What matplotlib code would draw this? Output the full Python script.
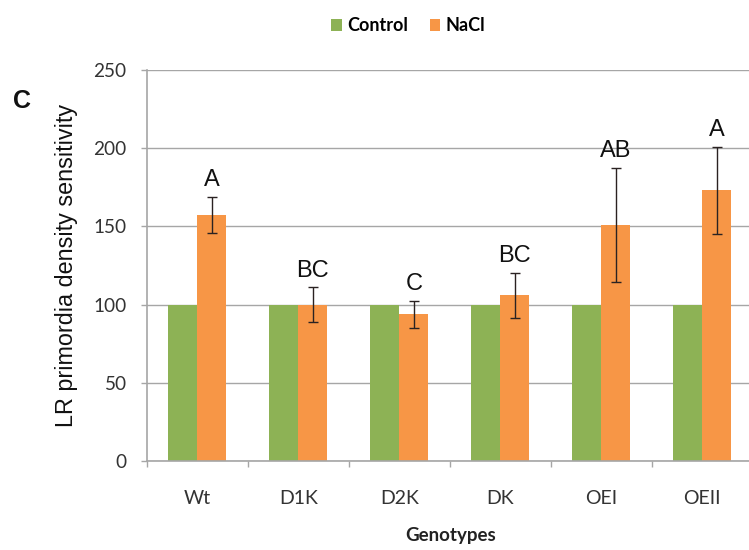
import matplotlib
matplotlib.use("Agg")
import matplotlib.pyplot as plt
import numpy as np

genotypes = ["Wt", "D1K", "D2K", "DK", "OEI", "OEII"]
control = [100, 100, 100, 100, 100, 100]
nacl = [157.3, 100, 93.8, 106, 151, 173]
nacl_err = [11.7, 11, 8.8, 14.5, 36.5, 28]
letters = ["A", "BC", "C", "BC", "AB", "A"]

green = "#8DB255"
orange = "#F79646"
grid_c = "#A6A6A6"

fig = plt.figure(figsize=(7.49, 5.5), dpi=100)
ax = fig.add_axes([0.196, 0.1618, 0.809, 0.7109])

x = np.arange(len(genotypes))
w = 0.287
ax.bar(x - w / 2, control, width=w, color=green, label="Control", zorder=2)
ax.bar(x + w / 2, nacl, width=w, color=orange, label="NaCl", zorder=2)
ax.errorbar(x + w / 2, nacl, yerr=nacl_err, fmt="none", ecolor="#2a2222",
            elinewidth=1.0, capsize=3.6, capthick=1.0, zorder=3)

for xi, v, e, t in zip(x, nacl, nacl_err, letters):
    ax.text(xi + w / 2, v + e + 3.5, t, ha="center", va="bottom",
            fontsize=17, family="Liberation Sans", color="#111111")

ax.set_ylim(0, 250)
ax.set_xlim(-0.5, 5.5)
ax.set_yticks(np.arange(0, 251, 50))
ax.yaxis.grid(True, color=grid_c, linewidth=1.0, zorder=0)
ax.set_axisbelow(True)

for s in ["top", "right"]:
    ax.spines[s].set_visible(False)
for s in ["left", "bottom"]:
    ax.spines[s].set_color(grid_c)
    ax.spines[s].set_linewidth(1.2)

ax.tick_params(axis="y", direction="out", length=4.5, color=grid_c, width=1,
               labelsize=13.7, labelcolor="#333333", pad=10)
for lab in ax.get_yticklabels():
    lab.set_family("Lato")

ax.set_xticks(x)
ax.set_xticklabels(genotypes, fontsize=14, color="#333333", family="Lato")
ax.tick_params(axis="x", length=0, pad=21)

# small boundary ticks between categories on the x axis
ax.set_xticks(np.arange(-0.5, 5.6, 1.0), minor=True)
ax.tick_params(axis="x", which="minor", direction="out", length=4,
               color=grid_c, width=1)

ax.set_ylabel("LR primordia density sensitivity", fontsize=16.8,
              family="Liberation Sans", color="#111111", labelpad=11)
fig.text(0.601, 0.0255, "Genotypes", ha="center", va="center",
         fontsize=13.5, fontweight="bold", family="Lato", color="#222222")

fig.text(0.017, 0.804, "C", fontsize=18, fontweight="bold",
         family="Liberation Sans", color="#111111")

leg = fig.legend(loc="center", bbox_to_anchor=(0.545, 0.953), ncol=2,
                 frameon=False, handlelength=0.6, handleheight=0.6,
                 handletextpad=0.3, columnspacing=1.2,
                 prop={"family": "Lato", "weight": "bold", "size": 13})

fig.savefig("out.png", dpi=100)
